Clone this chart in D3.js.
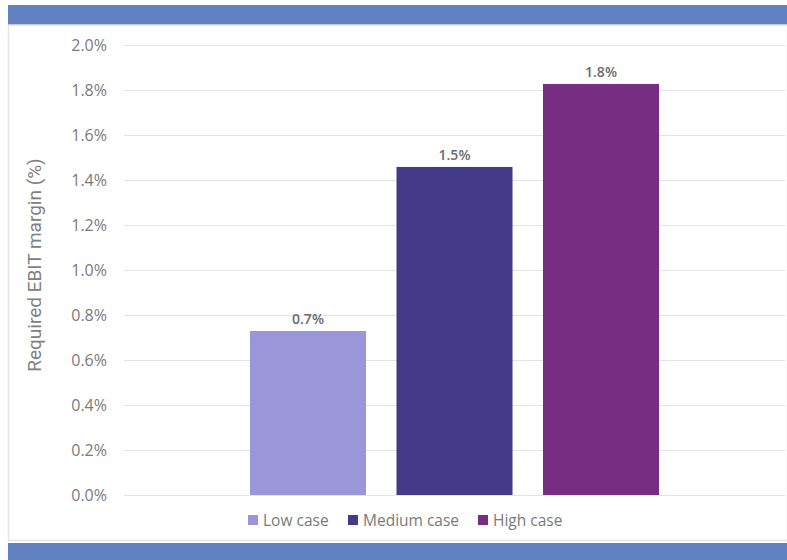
<!DOCTYPE html>
<html><head><meta charset="utf-8">
<script src="https://cdn.jsdelivr.net/npm/d3@7"></script>
<style>body{margin:0;background:#fff;} svg{display:block;}</style>
</head><body>
<svg id="c" width="787" height="560"></svg>
<script>
const categories = ["Low case", "Medium case", "High case"];
const values = [0.729, 1.458, 1.827];
const labels = ["0.7%", "1.5%", "1.8%"];
const colors = ["#9b95d9", "#433a88", "#772d82"];
const yTicks = [0, 0.2, 0.4, 0.6, 0.8, 1.0, 1.2, 1.4, 1.6, 1.8, 2.0];
const yTitle = "Required EBIT margin (%)";

const svg = d3.select("#c");
const W = 787, H = 560;
const band = "#6281c1";
const tickFont = "Open Sans, sans-serif";

// frame
svg.append("rect").attr("x", 8).attr("y", 5).attr("width", W - 8).attr("height", 20).attr("fill", band);
svg.append("rect").attr("x", 8.5).attr("y", 25).attr("width", W - 8).attr("height", 515.5)
  .attr("fill", "#fff").attr("stroke", "#e4e4e4").attr("stroke-width", 1.5);
svg.append("rect").attr("x", 8).attr("y", 543).attr("width", W - 8).attr("height", 17).attr("fill", band);

const y = d3.scaleLinear().domain([0, 2]).range([495, 45]);
const x = d3.scaleBand().domain(categories).range([234.75, 674.25]).paddingInner(0.208).paddingOuter(0.104);

// gridlines
const yAxis = d3.axisLeft(y).tickValues(yTicks).tickSize(-(785 - 124)).tickFormat(d => d3.format(".1f")(d) + "%").tickPadding(17);
const g = svg.append("g").attr("transform", "translate(124,0)").call(yAxis);
g.select(".domain").remove();
g.selectAll(".tick line").attr("stroke", "#e3e3e3").attr("stroke-width", 1);
g.selectAll(".tick text").attr("fill", "#7a7a7a").attr("font-family", tickFont).attr("font-size", 16);

// bars
svg.append("g").selectAll("rect").data(categories).join("rect")
  .attr("x", d => x(d)).attr("width", x.bandwidth())
  .attr("y", (d, i) => y(values[i])).attr("height", (d, i) => y(0) - y(values[i]))
  .attr("fill", (d, i) => colors[i]);

// value labels
svg.append("g").selectAll("text").data(categories).join("text")
  .attr("x", d => x(d) + x.bandwidth() / 2).attr("y", (d, i) => y(values[i]) - 7)
  .attr("text-anchor", "middle").attr("font-family", tickFont).attr("font-size", 14)
  .attr("font-weight", 600).attr("fill", "#6b6b6b").text((d, i) => labels[i]);

// y title
svg.append("text").attr("transform", "translate(41,265) rotate(-90)")
  .attr("text-anchor", "middle").attr("font-family", "Roboto, sans-serif").attr("font-size", 19)
  .attr("fill", "#808080").text(yTitle);

// legend
const lg = svg.append("g");
const legX = [248, 348, 478];
categories.forEach((c, i) => {
  lg.append("rect").attr("x", legX[i]).attr("y", 515).attr("width", 10).attr("height", 10).attr("fill", colors[i]);
  lg.append("text").attr("x", legX[i] + 15).attr("y", 525.5).attr("font-family", tickFont)
    .attr("font-size", 15.5).attr("fill", "#7a7a7a").text(c);
});
</script>
</body></html>
